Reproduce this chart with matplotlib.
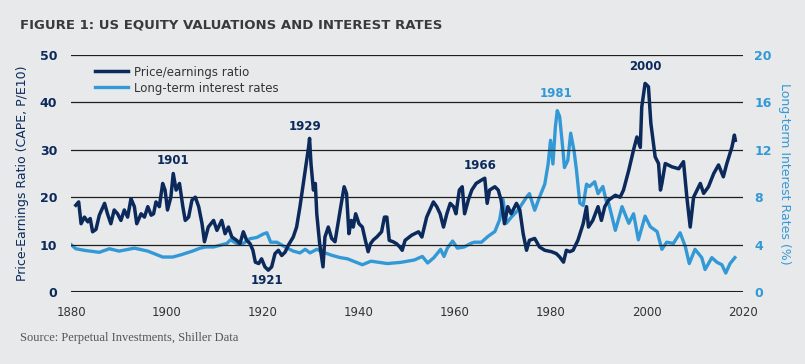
import matplotlib
matplotlib.use('Agg')
import matplotlib.pyplot as plt

# CAPE (Shiller P/E10), gelesen aus der Vorlage
cape_years = [1881.0, 1881.6, 1882.1, 1882.8, 1883.5, 1884.0, 1884.5, 1885.2, 1885.9, 1887.0,
              1887.6, 1888.3, 1889.0, 1889.7, 1890.4, 1891.1, 1891.8, 1892.5, 1893.2, 1893.7,
              1894.6, 1895.3, 1896.0, 1896.7, 1897.2, 1897.7, 1898.4, 1899.1, 1899.6, 1900.1,
              1900.8, 1901.3, 1901.9, 1902.6, 1903.3, 1903.8, 1904.5, 1905.2, 1905.9, 1906.6,
              1907.3, 1907.8, 1908.6, 1909.7, 1910.4, 1911.4, 1912.1, 1912.8, 1913.5, 1914.5,
              1915.2, 1915.9, 1916.6, 1917.3, 1917.9, 1918.4, 1919.1, 1919.7, 1920.4, 1921.1,
              1921.8, 1922.5, 1923.2, 1923.9, 1924.6, 1925.3, 1926.3, 1927.0, 1927.7, 1928.4,
              1929.0, 1929.5, 1929.7, 1930.0, 1930.5, 1930.9, 1931.2, 1931.8, 1932.5, 1932.9,
              1933.6, 1934.3, 1935.0, 1935.7, 1936.2, 1936.9, 1937.4, 1937.9, 1938.4, 1938.8,
              1939.3, 1940.0, 1940.7, 1941.3, 1941.9, 1942.4, 1943.0, 1943.7, 1944.7, 1945.3,
              1945.8, 1946.3, 1947.1, 1947.8, 1948.5, 1949.0, 1949.6, 1951.0, 1952.4, 1953.1,
              1954.1, 1955.5, 1956.2, 1956.9, 1957.6, 1958.3, 1959.0, 1959.7, 1960.2, 1960.9,
              1961.5, 1962.0, 1962.8, 1963.5, 1964.4, 1965.5, 1966.2, 1966.7, 1967.2, 1968.3,
              1969.0, 1969.6, 1970.3, 1971.0, 1971.7, 1972.8, 1973.5, 1974.2, 1974.9, 1975.5,
              1976.6, 1977.6, 1978.7, 1980.1, 1981.1, 1981.8, 1982.6, 1983.2, 1983.9, 1984.6,
              1985.6, 1986.7, 1987.4, 1987.8, 1988.7, 1989.8, 1990.5, 1991.2, 1992.0, 1993.4,
              1994.4, 1995.1, 1996.2, 1997.2, 1997.9, 1998.6, 1998.9, 1999.6, 2000.3, 2000.8,
              2001.7, 2002.4, 2002.8, 2003.1, 2003.8, 2005.2, 2006.6, 2007.6, 2008.3, 2009.0,
              2009.7, 2011.1, 2011.8, 2012.8, 2013.9, 2014.9, 2015.9, 2016.6, 2017.7, 2018.2,
              2018.4]
cape_vals = [18.3, 19.0, 14.4, 15.8, 14.8, 15.5, 12.7, 13.2, 16.2, 18.7,
             16.5, 14.4, 17.3, 16.5, 15.1, 17.3, 15.8, 19.7, 18.0, 14.4,
             16.5, 15.8, 18.0, 16.2, 16.5, 19.0, 18.0, 22.9, 21.5, 17.3,
             20.0, 25.0, 21.5, 22.9, 18.0, 15.1, 15.8, 19.4, 20.0, 18.0,
             14.4, 10.6, 13.7, 15.1, 13.0, 15.1, 12.3, 13.7, 11.6, 10.9,
             10.2, 12.7, 10.9, 10.2, 8.8, 6.3, 6.0, 7.0, 5.3, 4.6,
             5.3, 8.1, 8.8, 7.7, 8.4, 9.9, 11.6, 13.7, 18.0, 22.9,
             27.1, 30.6, 32.4, 27.0, 21.5, 22.9, 16.5, 10.2, 5.3, 11.6,
             13.7, 11.3, 10.6, 15.0, 18.0, 22.2, 20.8, 12.3, 15.1, 13.7,
             16.5, 14.4, 13.7, 11.0, 8.5, 10.2, 11.0, 11.6, 12.7, 15.8,
             15.8, 10.9, 10.6, 10.2, 9.5, 8.8, 10.9, 12.0, 12.7, 11.6,
             15.8, 19.0, 18.0, 16.5, 13.7, 16.5, 18.7, 18.0, 16.5, 21.5,
             22.2, 16.5, 19.5, 21.5, 22.9, 23.6, 24.0, 18.7, 21.5, 22.2,
             21.5, 19.4, 14.4, 18.0, 16.5, 18.7, 17.3, 12.3, 8.8, 10.9,
             11.3, 9.5, 8.8, 8.5, 8.1, 7.4, 6.3, 8.8, 8.5, 8.8,
             10.9, 14.4, 18.0, 13.7, 15.1, 18.0, 15.1, 18.0, 19.4, 20.4,
             20.0, 21.5, 25.7, 30.0, 32.7, 30.5, 39.0, 44.0, 43.3, 35.6,
             28.5, 27.1, 21.5, 22.9, 27.1, 26.4, 26.0, 27.5, 20.0, 13.7,
             20.0, 22.9, 20.8, 22.2, 25.0, 26.8, 24.3, 27.0, 30.6, 33.1,
             32.0]

# Langfristige Zinsen in %
rate_years = [1880.0, 1881.0, 1883.0, 1885.9, 1888.0, 1890.0, 1893.2, 1896.0, 1899.1, 1901.2,
              1903.0, 1905.3, 1906.9, 1908.0, 1909.7, 1912.5, 1913.2, 1914.5, 1915.9, 1917.3,
              1918.7, 1920.1, 1920.8, 1921.6, 1922.9, 1924.6, 1926.3, 1927.7, 1928.8, 1929.8,
              1931.2, 1932.6, 1934.3, 1936.1, 1937.6, 1940.7, 1942.5, 1945.9, 1948.7, 1951.5,
              1953.2, 1954.3, 1955.6, 1957.0, 1957.7, 1958.4, 1959.5, 1960.5, 1961.9, 1963.3,
              1964.0, 1965.5, 1966.9, 1968.3, 1969.3, 1970.0, 1970.7, 1971.7, 1973.1, 1974.9,
              1975.5, 1976.6, 1977.6, 1978.7, 1979.4, 1979.9, 1980.4, 1980.9, 1981.3, 1981.8,
              1982.5, 1982.8, 1983.5, 1984.1, 1984.8, 1985.3, 1986.0, 1986.7, 1987.4, 1988.0,
              1989.1, 1989.8, 1990.8, 1991.5, 1992.0, 1993.4, 1994.8, 1996.2, 1997.2, 1998.2,
              1999.6, 2000.7, 2002.1, 2003.1, 2004.1, 2005.5, 2006.9, 2008.0, 2008.8, 2010.0,
              2011.4, 2012.1, 2013.5, 2014.6, 2015.6, 2016.4, 2017.3, 2018.3]
rate_vals = [4.0, 3.65, 3.5, 3.35, 3.65, 3.45, 3.7, 3.45, 2.95, 2.95,
             3.15, 3.45, 3.7, 3.8, 3.8, 4.1, 4.4, 4.1, 4.1, 4.5,
             4.6, 4.9, 5.0, 4.2, 4.2, 3.8, 3.45, 3.3, 3.6, 3.3,
             3.6, 3.35, 3.1, 2.9, 2.8, 2.3, 2.6, 2.4, 2.5, 2.7,
             3.0, 2.45, 2.9, 3.6, 3.0, 3.7, 4.3, 3.7, 3.8, 4.1,
             4.2, 4.2, 4.7, 5.1, 6.1, 7.8, 5.8, 6.3, 6.9, 8.0,
             8.3, 6.9, 8.0, 9.1, 10.8, 12.8, 10.8, 13.9, 15.3, 14.8,
             11.9, 10.5, 11.1, 13.4, 11.9, 10.3, 7.5, 7.3, 9.1, 8.9,
             9.3, 8.3, 8.9, 7.7, 7.5, 5.2, 7.2, 5.8, 6.6, 4.4,
             6.4, 5.5, 5.1, 3.6, 4.2, 4.1, 5.0, 3.8, 2.4, 3.6,
             2.9, 1.9, 2.9, 2.5, 2.3, 1.6, 2.4, 2.9]

x_ticks = [1880, 1900, 1920, 1940, 1960, 1980, 2000, 2020]
left_ticks = [0, 10, 20, 30, 40, 50]
right_ticks = [0, 4, 8, 12, 16, 20]

navy = '#0b2a5b'
blue = '#3399d6'
bg = '#e8e9eb'

fig = plt.figure(figsize=(8.05, 3.64), dpi=100, facecolor=bg)
ax = fig.add_axes([0.0882, 0.1978, 0.8348, 0.6512])
ax.set_facecolor(bg)
ax2 = ax.twinx()

# Gitterlinien
for v in left_ticks[1:]:
    ax.axhline(v, color='#1e1e1e', lw=0.9, zorder=1)
ax.axhline(0, color='#1e1e1e', lw=2.2, zorder=1)

ax2.plot(rate_years, rate_vals, color=blue, lw=2.4, solid_joinstyle='round',
         label='Long-term interest rates', zorder=3)
ax.plot(cape_years, cape_vals, color=navy, lw=2.5, solid_joinstyle='round',
        label='Price/earnings ratio', zorder=4)
ax.set_zorder(ax2.get_zorder() + 1)
ax.patch.set_visible(False)
ax2.patch.set_visible(True)
ax2.set_facecolor(bg)

ax.set_xlim(1880, 2020)
ax.set_ylim(0, 50)
ax2.set_ylim(0, 20)
ax.set_xticks(x_ticks)
ax.set_yticks(left_ticks)
ax2.set_yticks(right_ticks)

for a in (ax, ax2):
    for s in a.spines.values():
        s.set_visible(False)
    a.tick_params(length=0)

ax.tick_params(axis='x', labelsize=8.5, colors='#333333', pad=10)
ax.tick_params(axis='y', labelsize=9, labelcolor=navy, pad=10)
for t in ax.get_yticklabels():
    t.set_fontweight('bold')
ax2.tick_params(axis='y', labelsize=9, labelcolor=blue, pad=8)
for t in ax2.get_yticklabels():
    t.set_fontweight('bold')

ax.set_ylabel('Price-Earnings Ratio (CAPE, P/E10)', color=navy, fontsize=9, labelpad=8)
ax2.set_ylabel('Long-term Interest Rates (%)', color=blue, fontsize=9, rotation=270, labelpad=14)

# Legende
h1, l1 = ax.get_legend_handles_labels()
h2, l2 = ax2.get_legend_handles_labels()
ax.legend(h1 + h2, l1 + l2, loc='upper left', bbox_to_anchor=(0.02, 1.0), frameon=False,
          fontsize=8.5, handlelength=2.8, labelspacing=0.25, handletextpad=0.5,
          labelcolor='#333333')

# Beschriftungen der Spitzen
ann = dict(ha='center', va='center', fontsize=8.5, fontweight='bold', color=navy)
ax.text(1901.2, 27.8, '1901', **ann)
ax.text(1920.8, 2.5, '1921', **ann)
ax.text(1928.8, 35.0, '1929', **ann)
ax.text(1965.2, 26.6, '1966', **ann)
ax.text(1999.6, 47.5, '2000', **ann)
ax.text(1981.0, 41.8, '1981', ha='center', va='center', fontsize=8.5, fontweight='bold', color=blue)

fig.text(0.025, 0.93, 'FIGURE 1: US EQUITY VALUATIONS AND INTEREST RATES', fontsize=9.5,
         fontweight='bold', color='#3a3a3a', va='center')
fig.text(0.025, 0.072, 'Source: Perpetual Investments, Shiller Data', fontsize=9,
         family='Liberation Serif', color='#555555', va='center')

fig.savefig('out.png', dpi=100, facecolor=bg)
